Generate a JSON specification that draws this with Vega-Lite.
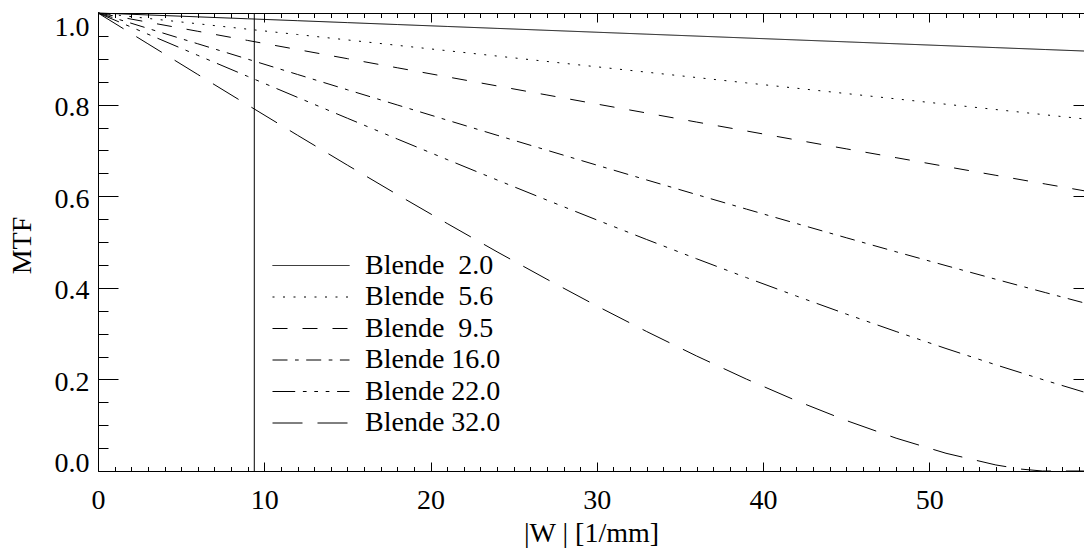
{
  "$schema": "https://vega.github.io/schema/vega-lite/v6.json",
  "width": 986,
  "height": 458,
  "autosize": {"type": "none"},
  "padding": {"left": 98, "top": 13, "right": 0, "bottom": 77},
  "background": "white",
  "config": {
    "view": {"stroke": null},
    "font": "Liberation Serif, Times New Roman, serif",
    "axis": {
      "grid": false,
      "domainColor": "black",
      "domainWidth": 1,
      "tickColor": "black",
      "tickWidth": 1,
      "labelColor": "black",
      "titleColor": "black",
      "labelFont": "Liberation Serif, Times New Roman, serif",
      "titleFont": "Liberation Serif, Times New Roman, serif",
      "labelFontSize": 28,
      "titleFontSize": 28,
      "titleFontWeight": "normal"
    },
    "legend": {
      "labelFont": "Liberation Serif, Times New Roman, serif"
    }
  },
  "data": {
    "values": [
      {"b": "Blende \u00a02.0", "x": 0, "y": 1},
      {"b": "Blende \u00a02.0", "x": 3, "y": 0.9958},
      {"b": "Blende \u00a02.0", "x": 6, "y": 0.9916},
      {"b": "Blende \u00a02.0", "x": 9, "y": 0.9874},
      {"b": "Blende \u00a02.0", "x": 12, "y": 0.9832},
      {"b": "Blende \u00a02.0", "x": 15, "y": 0.979},
      {"b": "Blende \u00a02.0", "x": 18, "y": 0.9748},
      {"b": "Blende \u00a02.0", "x": 21, "y": 0.9706},
      {"b": "Blende \u00a02.0", "x": 24, "y": 0.9664},
      {"b": "Blende \u00a02.0", "x": 27, "y": 0.9622},
      {"b": "Blende \u00a02.0", "x": 30, "y": 0.958},
      {"b": "Blende \u00a02.0", "x": 33, "y": 0.9538},
      {"b": "Blende \u00a02.0", "x": 36, "y": 0.9496},
      {"b": "Blende \u00a02.0", "x": 39, "y": 0.9454},
      {"b": "Blende \u00a02.0", "x": 42, "y": 0.9412},
      {"b": "Blende \u00a02.0", "x": 45, "y": 0.937},
      {"b": "Blende \u00a02.0", "x": 48, "y": 0.9328},
      {"b": "Blende \u00a02.0", "x": 51, "y": 0.9286},
      {"b": "Blende \u00a02.0", "x": 54, "y": 0.9244},
      {"b": "Blende \u00a02.0", "x": 57, "y": 0.9202},
      {"b": "Blende \u00a02.0", "x": 59.3, "y": 0.917},
      {"b": "Blende \u00a05.6", "x": 0, "y": 1},
      {"b": "Blende \u00a05.6", "x": 3, "y": 0.9882},
      {"b": "Blende \u00a05.6", "x": 6, "y": 0.9765},
      {"b": "Blende \u00a05.6", "x": 9, "y": 0.9647},
      {"b": "Blende \u00a05.6", "x": 12, "y": 0.953},
      {"b": "Blende \u00a05.6", "x": 15, "y": 0.9412},
      {"b": "Blende \u00a05.6", "x": 18, "y": 0.9294},
      {"b": "Blende \u00a05.6", "x": 21, "y": 0.9177},
      {"b": "Blende \u00a05.6", "x": 24, "y": 0.906},
      {"b": "Blende \u00a05.6", "x": 27, "y": 0.8942},
      {"b": "Blende \u00a05.6", "x": 30, "y": 0.8825},
      {"b": "Blende \u00a05.6", "x": 33, "y": 0.8708},
      {"b": "Blende \u00a05.6", "x": 36, "y": 0.8591},
      {"b": "Blende \u00a05.6", "x": 39, "y": 0.8474},
      {"b": "Blende \u00a05.6", "x": 42, "y": 0.8358},
      {"b": "Blende \u00a05.6", "x": 45, "y": 0.8241},
      {"b": "Blende \u00a05.6", "x": 48, "y": 0.8125},
      {"b": "Blende \u00a05.6", "x": 51, "y": 0.8008},
      {"b": "Blende \u00a05.6", "x": 54, "y": 0.7892},
      {"b": "Blende \u00a05.6", "x": 57, "y": 0.7776},
      {"b": "Blende \u00a05.6", "x": 59.3, "y": 0.7688},
      {"b": "Blende \u00a09.5", "x": 0, "y": 1},
      {"b": "Blende \u00a09.5", "x": 3, "y": 0.98},
      {"b": "Blende \u00a09.5", "x": 6, "y": 0.9601},
      {"b": "Blende \u00a09.5", "x": 9, "y": 0.9401},
      {"b": "Blende \u00a09.5", "x": 12, "y": 0.9202},
      {"b": "Blende \u00a09.5", "x": 15, "y": 0.9003},
      {"b": "Blende \u00a09.5", "x": 18, "y": 0.8804},
      {"b": "Blende \u00a09.5", "x": 21, "y": 0.8606},
      {"b": "Blende \u00a09.5", "x": 24, "y": 0.8408},
      {"b": "Blende \u00a09.5", "x": 27, "y": 0.821},
      {"b": "Blende \u00a09.5", "x": 30, "y": 0.8012},
      {"b": "Blende \u00a09.5", "x": 33, "y": 0.7816},
      {"b": "Blende \u00a09.5", "x": 36, "y": 0.7619},
      {"b": "Blende \u00a09.5", "x": 39, "y": 0.7424},
      {"b": "Blende \u00a09.5", "x": 42, "y": 0.7228},
      {"b": "Blende \u00a09.5", "x": 45, "y": 0.7034},
      {"b": "Blende \u00a09.5", "x": 48, "y": 0.6841},
      {"b": "Blende \u00a09.5", "x": 51, "y": 0.6648},
      {"b": "Blende \u00a09.5", "x": 54, "y": 0.6456},
      {"b": "Blende \u00a09.5", "x": 57, "y": 0.6265},
      {"b": "Blende \u00a09.5", "x": 59.3, "y": 0.6119},
      {"b": "Blende 16.0", "x": 0, "y": 1},
      {"b": "Blende 16.0", "x": 3, "y": 0.9664},
      {"b": "Blende 16.0", "x": 6, "y": 0.9328},
      {"b": "Blende 16.0", "x": 9, "y": 0.8993},
      {"b": "Blende 16.0", "x": 12, "y": 0.8658},
      {"b": "Blende 16.0", "x": 15, "y": 0.8324},
      {"b": "Blende 16.0", "x": 18, "y": 0.7992},
      {"b": "Blende 16.0", "x": 21, "y": 0.7661},
      {"b": "Blende 16.0", "x": 24, "y": 0.7331},
      {"b": "Blende 16.0", "x": 27, "y": 0.7004},
      {"b": "Blende 16.0", "x": 30, "y": 0.6678},
      {"b": "Blende 16.0", "x": 33, "y": 0.6355},
      {"b": "Blende 16.0", "x": 36, "y": 0.6035},
      {"b": "Blende 16.0", "x": 39, "y": 0.5718},
      {"b": "Blende 16.0", "x": 42, "y": 0.5404},
      {"b": "Blende 16.0", "x": 45, "y": 0.5093},
      {"b": "Blende 16.0", "x": 48, "y": 0.4786},
      {"b": "Blende 16.0", "x": 51, "y": 0.4484},
      {"b": "Blende 16.0", "x": 54, "y": 0.4186},
      {"b": "Blende 16.0", "x": 57, "y": 0.3893},
      {"b": "Blende 16.0", "x": 59.3, "y": 0.3671},
      {"b": "Blende 22.0", "x": 0, "y": 1},
      {"b": "Blende 22.0", "x": 3, "y": 0.9538},
      {"b": "Blende 22.0", "x": 6, "y": 0.9076},
      {"b": "Blende 22.0", "x": 9, "y": 0.8616},
      {"b": "Blende 22.0", "x": 12, "y": 0.8158},
      {"b": "Blende 22.0", "x": 15, "y": 0.7702},
      {"b": "Blende 22.0", "x": 18, "y": 0.7249},
      {"b": "Blende 22.0", "x": 21, "y": 0.68},
      {"b": "Blende 22.0", "x": 24, "y": 0.6355},
      {"b": "Blende 22.0", "x": 27, "y": 0.5915},
      {"b": "Blende 22.0", "x": 30, "y": 0.5482},
      {"b": "Blende 22.0", "x": 33, "y": 0.5054},
      {"b": "Blende 22.0", "x": 36, "y": 0.4634},
      {"b": "Blende 22.0", "x": 39, "y": 0.4222},
      {"b": "Blende 22.0", "x": 42, "y": 0.382},
      {"b": "Blende 22.0", "x": 45, "y": 0.3427},
      {"b": "Blende 22.0", "x": 48, "y": 0.3045},
      {"b": "Blende 22.0", "x": 51, "y": 0.2674},
      {"b": "Blende 22.0", "x": 54, "y": 0.2318},
      {"b": "Blende 22.0", "x": 57, "y": 0.1975},
      {"b": "Blende 22.0", "x": 59.3, "y": 0.1723},
      {"b": "Blende 32.0", "x": 0, "y": 1},
      {"b": "Blende 32.0", "x": 3, "y": 0.9328},
      {"b": "Blende 32.0", "x": 6, "y": 0.8658},
      {"b": "Blende 32.0", "x": 9, "y": 0.7992},
      {"b": "Blende 32.0", "x": 12, "y": 0.7331},
      {"b": "Blende 32.0", "x": 15, "y": 0.6678},
      {"b": "Blende 32.0", "x": 18, "y": 0.6035},
      {"b": "Blende 32.0", "x": 21, "y": 0.5404},
      {"b": "Blende 32.0", "x": 24, "y": 0.4786},
      {"b": "Blende 32.0", "x": 27, "y": 0.4186},
      {"b": "Blende 32.0", "x": 30, "y": 0.3604},
      {"b": "Blende 32.0", "x": 33, "y": 0.3045},
      {"b": "Blende 32.0", "x": 36, "y": 0.2511},
      {"b": "Blende 32.0", "x": 39, "y": 0.2006},
      {"b": "Blende 32.0", "x": 42, "y": 0.1535},
      {"b": "Blende 32.0", "x": 45, "y": 0.1103},
      {"b": "Blende 32.0", "x": 48, "y": 0.0717},
      {"b": "Blende 32.0", "x": 51, "y": 0.0387},
      {"b": "Blende 32.0", "x": 54, "y": 0.0132},
      {"b": "Blende 32.0", "x": 55.5, "y": 0.0042},
      {"b": "Blende 32.0", "x": 56.8, "y": 0},
      {"b": "Blende 32.0", "x": 57, "y": 0},
      {"b": "Blende 32.0", "x": 59.3, "y": 0}
    ]
  },
  "layer": [
    {
      "mark": {"type": "line", "color": "black", "strokeWidth": 1},
      "encoding": {
        "x": {
          "field": "x", "type": "quantitative",
          "scale": {"domain": [0, 59.3], "nice": false, "zero": false},
          "axis": {
            "orient": "bottom",
            "values": [0, 10, 20, 30, 40, 50],
            "tickSize": -9,
            "labelPadding": 24,
            "labelFlush": false,
            "labelOverlap": false,
            "labelBaseline": "top",
            "title": "|W | [1/mm]",
            "titleX": 493,
            "titleY": 70,
            "titleAnchor": null,
            "titleAlign": "center",
            "titleBaseline": "alphabetic"
          }
        },
        "y": {
          "field": "y", "type": "quantitative",
          "scale": {"domain": [0, 1], "nice": false},
          "axis": {
            "orient": "left",
            "values": [0, 0.2, 0.4, 0.6, 0.8, 1.0],
            "format": ".1f",
            "tickSize": -20,
            "labelPadding": 29,
            "labelOffset": 3,
            "labelFlush": true,
            "labelFlushOffset": 3,
            "labelOverlap": false,
            "title": "MTF",
            "titleX": -76,
            "titleY": 232,
            "titleAngle": 270,
            "titleAlign": "center",
            "titleBaseline": "middle"
          }
        },
        "strokeDash": {
          "field": "b", "type": "nominal",
          "scale": {
            "domain": ["Blende \u00a02.0", "Blende \u00a05.6", "Blende \u00a09.5", "Blende 16.0", "Blende 22.0", "Blende 32.0"],
            "range": [[1, 0], [2, 8.5], [15, 15], [15, 7.5, 3.7, 7.5], [22.7, 7.7, 3.7, 7.7, 3.7, 7.7, 3.7, 7.7], [30, 15]]
          },
          "legend": {
            "orient": "none",
            "legendX": 223,
            "legendY": 238,
            "title": null,
            "padding": 0,
            "symbolType": "M-4.5,0H1",
            "symbolSize": 784,
            "symbolStrokeWidth": 1,
            "symbolStrokeColor": "black",
            "symbolFillColor": "transparent",
            "labelFont": "Liberation Serif, Times New Roman, serif",
            "labelFontSize": 28,
            "labelColor": "black",
            "labelOffset": 15,
            "labelBaseline": "middle",
            "labelLimit": 400,
            "rowPadding": 2.5
          }
        }
      }
    },
    {
      "mark": {"type": "line", "opacity": 0},
      "encoding": {
        "x": {"field": "x", "type": "quantitative",
          "axis": {"orient": "bottom", "values": [1,2,3,4,5,6,7,8,9,11,12,13,14,15,16,17,18,19,21,22,23,24,25,26,27,28,29,31,32,33,34,35,36,37,38,39,41,42,43,44,45,46,47,48,49,51,52,53,54,55,56,57,58,59],
            "tickSize": -4.5, "labels": false, "domain": false, "title": null}},
        "y": {"field": "y", "type": "quantitative",
          "axis": {"orient": "left", "values": [0.05,0.1,0.15,0.25,0.3,0.35,0.45,0.5,0.55,0.65,0.7,0.75,0.85,0.9,0.95],
            "tickSize": -10, "labels": false, "domain": false, "title": null}}
      }
    },
    {
      "mark": {"type": "line", "opacity": 0},
      "encoding": {
        "x": {"field": "x", "type": "quantitative",
          "axis": {"orient": "top", "values": [0, 10, 20, 30, 40, 50], "tickSize": -9, "labels": false, "domain": true, "title": null}},
        "y": {"field": "y", "type": "quantitative",
          "axis": {"orient": "right", "values": [0, 0.2, 0.4, 0.6, 0.8, 1.0], "tickSize": -11, "labels": false, "domain": false, "title": null}}
      }
    },
    {
      "mark": {"type": "line", "opacity": 0},
      "encoding": {
        "x": {"field": "x", "type": "quantitative",
          "axis": {"orient": "top", "values": [1,2,3,4,5,6,7,8,9,11,12,13,14,15,16,17,18,19,21,22,23,24,25,26,27,28,29,31,32,33,34,35,36,37,38,39,41,42,43,44,45,46,47,48,49,51,52,53,54,55,56,57,58,59],
            "tickSize": -4.5, "labels": false, "domain": false, "title": null}},
        "y": {"field": "y", "type": "quantitative", "axis": null}
      }
    },
    {
      "data": {"values": [{"v": 9.4}]},
      "mark": {"type": "rule", "color": "black", "strokeWidth": 1},
      "encoding": {
        "x": {"field": "v", "type": "quantitative", "axis": null}
      }
    }
  ],
  "resolve": {"axis": {"x": "independent", "y": "independent"}}
}
